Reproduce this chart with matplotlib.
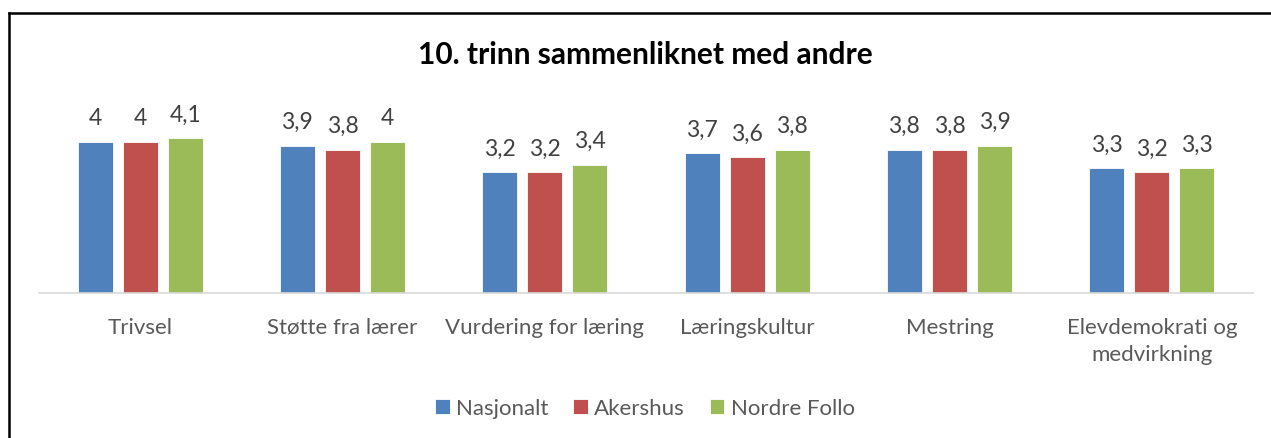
import numpy as np
import matplotlib.pyplot as plt
from matplotlib.lines import Line2D

categories = ["Trivsel", "Støtte fra lærer", "Vurdering for læring",
              "Læringskultur", "Mestring", "Elevdemokrati og\nmedvirkning"]
nasjonalt = [4.0, 3.9, 3.2, 3.7, 3.8, 3.3]
akershus = [4.0, 3.8, 3.2, 3.6, 3.8, 3.2]
nordre_follo = [4.1, 4.0, 3.4, 3.8, 3.9, 3.3]
series_names = ["Nasjonalt", "Akershus", "Nordre Follo"]
colors = ["#4F81BD", "#C0504D", "#9BBB59"]

plt.rcParams['font.family'] = ['Lato', 'DejaVu Sans']

fig = plt.figure(figsize=(12.71, 4.39), dpi=100)
ax = fig.add_axes([39/1271, 145/439, 1214/1271, 188.75/439])

x = np.arange(len(categories))
w = 0.173
pitch = 0.223
for i, (vals, name, c) in enumerate(zip([nasjonalt, akershus, nordre_follo], series_names, colors)):
    pos = x + (i - 1) * pitch
    bars = ax.bar(pos, vals, w, color=c, label=name, edgecolor='white', linewidth=0.6)
    for xp, v in zip(pos, vals):
        ax.text(xp, v + 0.64, f"{v:g}".replace('.', ','), ha='center', va='center',
                fontsize=16.5, color='#404040')

ax.set_xlim(-0.5, len(categories) - 0.5)
ax.set_ylim(0, 5)
ax.set_yticks([])
ax.set_xticks(x)
ax.set_xticklabels(categories, fontsize=16, color='#595959', linespacing=1.45)
ax.tick_params(axis='x', length=0, pad=17)
for s in ['top', 'right', 'left']:
    ax.spines[s].set_visible(False)
ax.spines['bottom'].set_color('#D9D9D9')
ax.spines['bottom'].set_linewidth(1.2)

fig.text(0.5075, 1 - 55/439, "10. trinn sammenliknet med andre", ha='center', va='center',
         fontsize=21.5, fontweight='bold', color='black')

leg = fig.legend(loc='center', bbox_to_anchor=(0.5075, 1 - 409/439), ncol=3, frameon=False,
                 fontsize=16, handlelength=0.65, handleheight=0.65, handletextpad=0.3,
                 columnspacing=1.1, labelcolor='#595959')

# chart border (only left and top edges visible in the crop)
fig.add_artist(Line2D([9/1271, 9/1271], [0, 1 - 13.5/439], transform=fig.transFigure,
                      color='black', linewidth=1.8))
fig.add_artist(Line2D([9/1271, 1], [1 - 13.5/439, 1 - 13.5/439], transform=fig.transFigure,
                      color='black', linewidth=1.8))

fig.savefig("out.png", dpi=100)
